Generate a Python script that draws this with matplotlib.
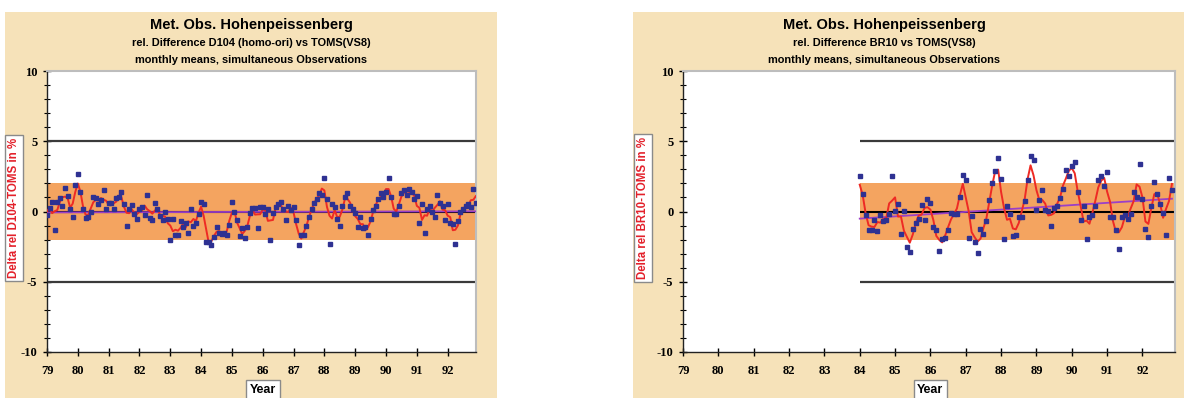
import numpy as np
import pandas as pd
import matplotlib.pyplot as plt
from matplotlib.patches import Rectangle
from matplotlib.transforms import blended_transform_factory

# D104 (homo-ori) - TOMS, monthly, Jan 1979 .. Dec 1992
d104_start = 1979
d104_values = [
    -0.24, 0.28, 0.71, -1.35, 0.71, 0.95, 0.40, 1.70, 1.07, 0.17, -0.40, 1.90,   # 79
    2.66, 1.42, 0.17, -0.43, -0.40, 0.00, 1.00, 0.95, 0.55, 0.83, 1.50, 0.17,    # 80
    0.64, 0.64, 0.17, 0.95, 1.00, 1.42, 0.55, -1.00, 0.17, 0.47, -0.19, -0.55,   # 81
    0.19, 0.31, -0.24, 1.19, -0.47, -0.64, 0.64, 0.20, -0.30, -0.60, 0.00, -0.50,  # 82
    -2.00, -0.50, -1.70, -1.70, -0.70, -1.10, -0.80, -1.50, 0.20, -1.00, -0.80, -0.20,  # 83
    0.70, 0.55, -2.20, -2.20, -2.37, -1.78, -1.07, -1.50, -1.60, -1.54, -1.70, -0.95,  # 84
    0.71, 0.00, -0.64, -1.73, -1.19, -1.90, -1.07, -0.12, 0.24, 0.28, -1.19, 0.30,  # 85
    0.30, -0.20, 0.20, -2.00, -0.10, 0.30, 0.50, 0.70, 0.20, -0.60, 0.40, 0.10,  # 86
    0.30, -0.60, -2.40, -1.70, -1.70, -1.00, -0.40, 0.20, 0.60, 0.90, 1.30, 1.20,  # 87
    2.40, 0.90, -2.30, 0.50, 0.30, -0.50, -1.00, 0.40, 1.00, 1.30, 0.40, 0.20,  # 88
    -0.10, -1.10, -0.40, -1.20, -1.10, -1.70, -0.50, 0.10, 0.40, 0.90, 1.30, 1.00,  # 89
    1.40, 2.40, 1.00, -0.20, -0.20, 0.40, 1.30, 1.50, 1.20, 1.60, 1.40, 0.90,  # 90
    1.10, -0.80, 0.50, -1.50, 0.20, 0.40, 0.00, -0.40, 1.20, 0.60, 0.40, -0.60,  # 91
    0.50, -0.80, -0.90, -2.30, -0.70, 0.00, 0.20, 0.40, 0.50, 0.30, 1.60, 0.60,  # 92
]

# BR10 - TOMS, monthly, Jan 1984 .. Nov 1992
br10_start = 1984
br10_values = [
    2.56, 1.26, -0.28, -1.33, -1.33, -0.57, -1.40, -0.28, -0.70, -0.57, -0.20, 2.50,  # 84
    0.02, 0.50, -1.60, 0.02, -2.52, -2.90, -1.24, -0.80, -0.52, 0.43, -0.57, 0.90,  # 85
    0.60, -1.10, -1.33, -2.78, -1.95, -1.87, -1.33, -0.14, -0.20, -0.20, 1.05, 2.63,  # 86
    2.23, -1.87, -0.33, -2.20, -2.95, -1.26, -1.60, -0.70, 0.80, 2.00, 2.85, 3.80,  # 87
    2.30, -1.95, 0.38, -0.20, -1.73, -1.70, -0.38, -0.38, 0.74, 2.23, 3.98, 3.65,  # 88
    0.10, 0.81, 1.50, 0.14, 0.02, -1.00, 0.26, 0.38, 0.97, 1.61, 2.94, 2.50,  # 89
    3.27, 3.51, 1.38, -0.57, 0.38, -1.95, -0.38, -0.28, 0.38, 2.23, 2.56, 1.80,  # 90
    2.80, -0.38, -0.38, -1.33, -2.70, -0.38, -0.28, -0.52, -0.20, 1.38, 1.05, 3.35,  # 91
    0.90, -1.26, -1.78, 0.40, 2.09, 1.21, 0.50, -0.14, -1.70, 2.40, 1.52,  # 92
]

year_ticks = list(range(79, 93))
x_end = 92.92

parchment = "#f6e2b9"
band_col = "#f4a460"
blue = "#2e3192"
red = "#ee2a24"
purple = "#9b3fc8"

plt.rcParams["font.family"] = ["Liberation Sans", "DejaVu Sans"]
plt.rcParams["axes.unicode_minus"] = False

fig = plt.figure(figsize=(11.84, 3.98), dpi=100)
fig.patch.set_facecolor("white")

# parchment panels
fig.add_artist(Rectangle((5 / 1184, 0), 492 / 1184, 386 / 398,
                         transform=fig.transFigure, facecolor=parchment,
                         edgecolor="none", zorder=0))
fig.add_artist(Rectangle((633 / 1184, 0), 551 / 1184, 386 / 398,
                         transform=fig.transFigure, facecolor=parchment,
                         edgecolor="none", zorder=0))


def panel(ax, start, values, x_from, titles, tx, ylab, ylx):
    x = start - 1900 + np.arange(len(values)) / 12.0
    y = np.array(values)
    smooth = pd.Series(y).rolling(3, center=True, min_periods=1).mean()
    a, b = np.polyfit(x, y, 1)

    ax.set_facecolor("white")
    ax.fill_between([x_from, x_end], -2, 2, color=band_col, lw=0, zorder=1)
    ax.hlines([5, -5], x_from, x_end, color="#3a3a3a", lw=1.6, zorder=2)
    ax.hlines(0, x_from, x_end, color="black", lw=1.5, zorder=2)
    ax.plot([x[0], x[-1]], [a * x[0] + b, a * x[-1] + b], color=purple, lw=1.3, zorder=3)
    ax.plot(x, smooth, color=red, lw=1.4, zorder=4)
    ax.plot(x, y, "s", color=blue, ms=3.0, mec=blue, zorder=5)

    ax.set_xlim(79, x_end)
    ax.set_ylim(-10, 10)
    ax.set_xticks(year_ticks)
    ax.set_xticklabels([str(t) for t in year_ticks])
    ax.set_yticks([-10, -5, 0, 5, 10])
    ax.set_yticks(range(-10, 11), minor=True)
    ax.tick_params(axis="both", which="major", direction="inout", length=6, width=1,
                   labelsize=9, pad=4)
    ax.tick_params(axis="y", which="minor", direction="inout", length=4, width=0.8)
    ax.tick_params(axis="x", pad=6)
    for lab in ax.get_xticklabels() + ax.get_yticklabels():
        lab.set_fontfamily("Liberation Serif")
        lab.set_fontweight("bold")
    for s in ["top", "right"]:
        ax.spines[s].set_color("#bdbdbd")
        ax.spines[s].set_linewidth(1.5)
    for s in ["left", "bottom"]:
        ax.spines[s].set_color("#222222")
        ax.spines[s].set_linewidth(1.0)

    fig.text(tx, 1 - 25 / 398, titles[0], ha="center", va="center",
             fontsize=10.5, fontweight="bold")
    fig.text(tx, 1 - 43 / 398, titles[1], ha="center", va="center",
             fontsize=7.9, fontweight="bold")
    fig.text(tx, 1 - 60 / 398, titles[2], ha="center", va="center",
             fontsize=7.9, fontweight="bold")

    fig.text(ylx, 1 - 208 / 398, ylab, rotation=90, ha="center", va="center",
             fontsize=8.3, fontweight="bold", color="#e3202a",
             bbox=dict(boxstyle="square,pad=0.25", fc="white", ec="#8a8a8a", lw=1))

    tr = blended_transform_factory(ax.transData, fig.transFigure)
    ax.text(86, 8 / 398, "Year", transform=tr, ha="center", va="center",
            fontsize=9, fontweight="bold",
            bbox=dict(boxstyle="square,pad=0.3", fc="white", ec="#8a8a8a", lw=1))


ax1 = fig.add_axes([47 / 1184, 46 / 398, 429 / 1184, 281 / 398])
panel(ax1, d104_start, d104_values, 79,
      ["Met. Obs. Hohenpeissenberg",
       "rel. Difference D104 (homo-ori) vs TOMS(VS8)",
       "monthly means, simultaneous Observations"],
      251 / 1184, "Delta rel D104-TOMS in %", 14 / 1184)

ax2 = fig.add_axes([683 / 1184, 46 / 398, 492 / 1184, 281 / 398])
panel(ax2, br10_start, br10_values, 84,
      ["Met. Obs. Hohenpeissenberg",
       "rel. Difference BR10 vs TOMS(VS8)",
       "monthly means, simultaneous Observations"],
      884 / 1184, "Delta rel BR10-TOMS in %", 643 / 1184)

fig.savefig("out.png", dpi=100)
